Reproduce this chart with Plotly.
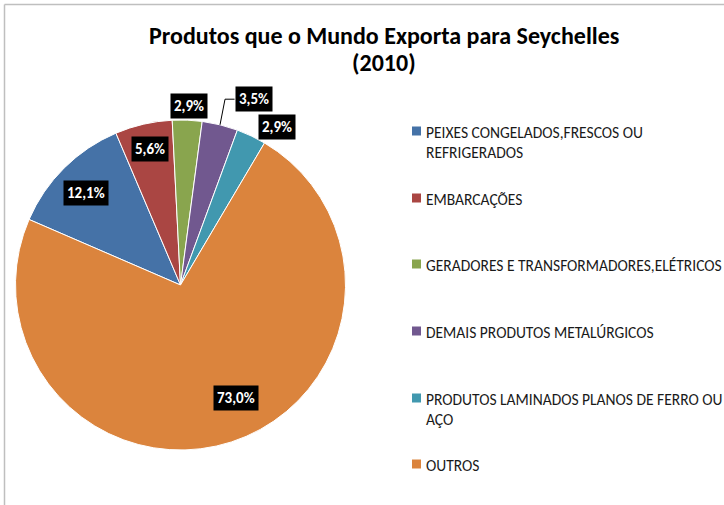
import math
import plotly.graph_objects as go

W, H = 724, 505

# ---- data ----
labels = [
    "PEIXES CONGELADOS,FRESCOS OU REFRIGERADOS",
    "EMBARCAÇÕES",
    "GERADORES E TRANSFORMADORES,ELÉTRICOS",
    "DEMAIS PRODUTOS METALÚRGICOS",
    "PRODUTOS LAMINADOS PLANOS DE FERRO OU AÇO",
    "OUTROS",
]
legend_text = [
    "PEIXES CONGELADOS,FRESCOS OU<br>REFRIGERADOS",
    "EMBARCAÇÕES",
    "GERADORES E TRANSFORMADORES,ELÉTRICOS",
    "DEMAIS PRODUTOS METALÚRGICOS",
    "PRODUTOS LAMINADOS PLANOS DE FERRO OU<br>AÇO",
    "OUTROS",
]
values = [12.1, 5.6, 2.9, 3.5, 2.9, 73.0]
title_lines = ["Produtos que o Mundo Exporta para Seychelles", "(2010)"]

# ---- styles ----
colors = ["#4572A7", "#AA4643", "#89A54E", "#71588F", "#4198AF", "#DB843D"]
FONT = "Carlito, Lato, 'Open Sans', sans-serif"
rotation = 293.4
cx, cy, R = 180.5, 285.0, 165.0  # pixel geometry of pie
# per-label radial factor and angular offset (deg)
lab_f = [0.80, 0.845, 1.086, 1.21, 1.125, 0.765]
lab_da = [-1.0, 0.5, 0.5, 7.6, 6.0, -8.0]
legend_y = [131, 198, 264, 331, 398, 464]  # pixel y of first text line center
title_y = [35, 62]

def px(x, y):
    return x / W, 1 - y / H

fig = go.Figure()
fig.add_trace(go.Pie(
    labels=labels, values=values, sort=False, direction="clockwise",
    rotation=rotation, textinfo="none", hoverinfo="label+percent",
    marker=dict(colors=colors, line=dict(color="white", width=1)),
    domain=dict(x=[(cx - R) / W, (cx + R) / W], y=[1 - (cy + R) / H, 1 - (cy - R) / H]),
    showlegend=False,
))

annotations = []
shapes = []

# title
for t, yy in zip(title_lines, title_y):
    tx, ty = px(384, yy)
    annotations.append(dict(text="<b>" + t + "</b>", x=tx, y=ty, xref="paper", yref="paper",
                            xanchor="center", yanchor="middle", showarrow=False,
                            font=dict(family=FONT, size=24, color="#000000")))

# data labels
total = sum(values)
start = rotation
for i, v in enumerate(values):
    span = v / total * 360
    mid = start + span / 2
    start += span
    ang = math.radians(mid + lab_da[i])
    lx = cx + R * lab_f[i] * math.sin(ang)
    ly = cy - R * lab_f[i] * math.cos(ang)
    ax_, ay_ = px(lx, ly)
    txt = ("%.1f%%" % v).replace(".", ",")
    annotations.append(dict(text="<b>" + txt + "</b>", x=ax_, y=ay_, xref="paper", yref="paper",
                            xanchor="center", yanchor="middle", showarrow=False,
                            bgcolor="#000000", borderpad=3,
                            font=dict(family=FONT, size=15, color="#ffffff")))
    if i == 3:
        # leader line from slice edge to label
        am = math.radians(mid)
        ex = cx + R * math.sin(am)
        ey = cy - R * math.cos(am)
        bx = lx - 19
        p0 = px(ex, ey); p1 = px(ex + 5, ly); p2 = px(bx, ly)
        shapes.append(dict(type="path", xref="paper", yref="paper",
                           path="M %f %f L %f %f L %f %f" % (p0[0], p0[1], p1[0], p1[1], p2[0], p2[1]),
                           line=dict(color="#000000", width=1)))

# legend (manual, to match spacing)
for i, t in enumerate(legend_text):
    y0 = legend_y[i]
    x0, y0p = px(412, y0 - 4.5)
    x1, y1p = px(421, y0 + 4.5)
    shapes.append(dict(type="rect", xref="paper", yref="paper", x0=x0, x1=x1, y0=y1p, y1=y0p,
                       fillcolor=colors[i], line=dict(width=0)))
    lx_, ly_ = px(424, y0 - 10)
    annotations.append(dict(text=t, x=lx_, y=ly_, xref="paper", yref="paper",
                            xanchor="left", yanchor="top", align="left", showarrow=False,
                            font=dict(family=FONT, size=15.5, color="#1a1a1a")))

# chart-area border (top and left visible)
bx0, by0 = px(4.5, 4.5)
shapes.append(dict(type="line", xref="paper", yref="paper", x0=bx0, x1=1, y0=by0, y1=by0,
                   line=dict(color="#bfbfbf", width=1.5)))
shapes.append(dict(type="line", xref="paper", yref="paper", x0=bx0, x1=bx0, y0=0, y1=by0,
                   line=dict(color="#bfbfbf", width=1.5)))

fig.update_layout(width=W, height=H, margin=dict(l=0, r=0, t=0, b=0),
                  paper_bgcolor="white", plot_bgcolor="white",
                  annotations=annotations, shapes=shapes)
fig.write_html("out.html", config={"displayModeBar": False},
               post_script="document.body.style.margin='0';document.body.style.overflow='hidden';")
